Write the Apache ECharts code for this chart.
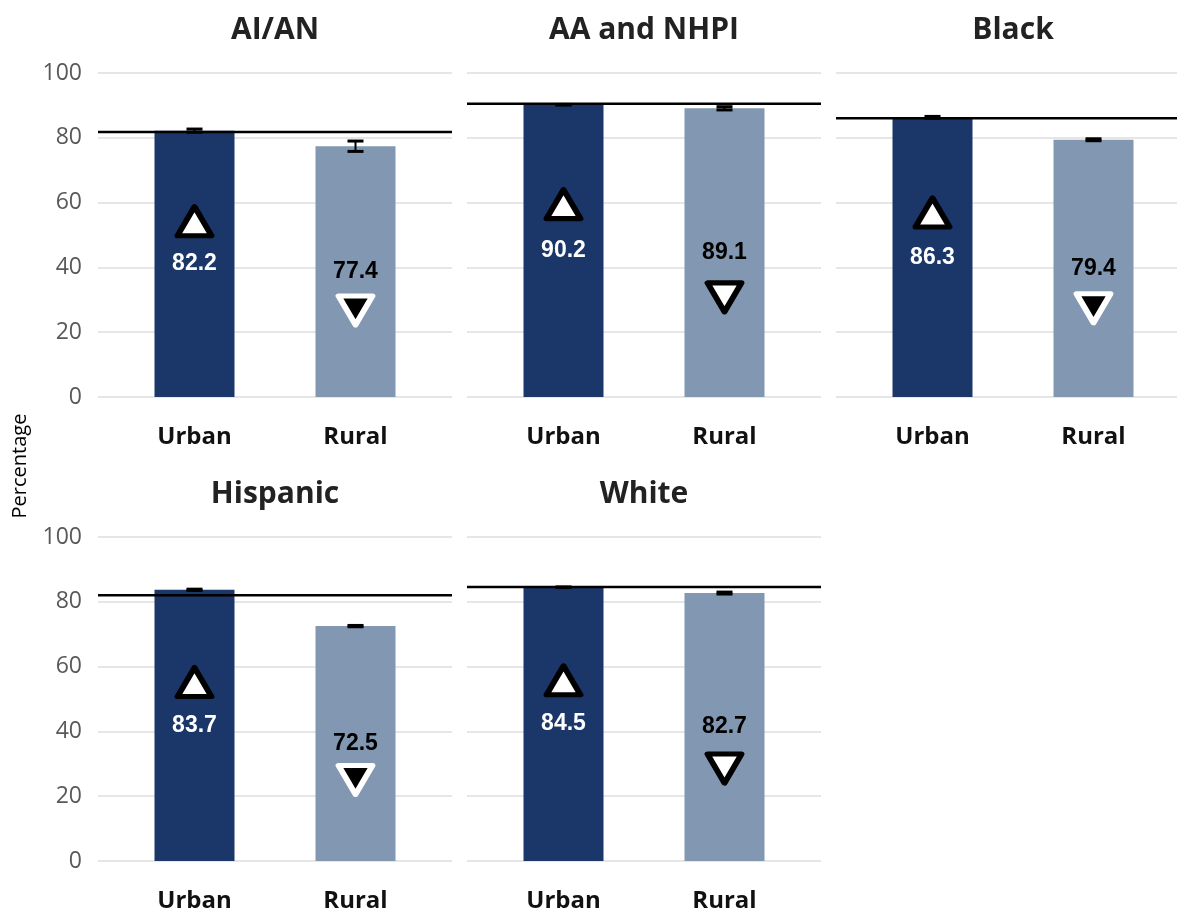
<!DOCTYPE html>
<html>
<head>
<meta charset="utf-8">
<script src="https://cdn.jsdelivr.net/npm/echarts@6/dist/echarts.min.js"></script>
<style>
html,body{margin:0;padding:0;background:#fff;}
#chart{width:1177px;height:911px;}
</style>
</head>
<body>
<div id="chart"></div>
<script>
// ---- Data ----
const groups = ['AI/AN', 'AA and NHPI', 'Black', 'Hispanic', 'White'];
const categories = ['Urban', 'Rural'];
const urbanValues = [82.2, 90.2, 86.3, 83.7, 84.5];
const ruralValues = [77.4, 89.1, 79.4, 72.5, 82.7];
const urbanErr = [0.5, 0.1, 0.3, 0.2, 0.1];
const ruralErr = [1.6, 0.5, 0.3, 0.2, 0.3];
const referenceValues = [81.8, 90.5, 86.0, 82.0, 84.6];
const ruralMarkerFilled = [true, false, true, true, false];
const yTicks = [0, 20, 40, 60, 80, 100];

// ---- Layout ----
const panelLefts = [98, 467, 836, 98, 467];
const panelRow = [0, 0, 0, 1, 1];
const panelW = 354, panelH = 324, barOffset = 16, barGridW = 322;
const URBAN = '#1b3769', RURAL = '#8297b1';

const grids = [], xAxes = [], yAxes = [], series = [], graphics = [];

groups.forEach((g, i) => {
  const top = panelRow[i] === 0 ? 73 : 537;
  const left = panelLefts[i];
  const showLabels = (i === 0 || i === 3);
  // background grid (gridlines + reference line)
  const bg = grids.length;
  grids.push({left: left, top: top, width: panelW, height: panelH, outerBoundsMode: 'none'});
  xAxes.push({gridIndex: bg, type: 'value', min: 0, max: 1, show: false});
  yAxes.push({
    gridIndex: bg, type: 'value', min: yTicks[0], max: yTicks[yTicks.length - 1], interval: yTicks[1] - yTicks[0],
    axisLine: {show: false}, axisTick: {show: false},
    axisLabel: {show: showLabels, fontSize: 23, color: '#595959', fontFamily: '"Open Sans", sans-serif', margin: 16},
    splitLine: {show: true, lineStyle: {color: '#e6e6e6', width: 2}}
  });
  series.push({
    type: 'line', xAxisIndex: bg, yAxisIndex: bg, symbol: 'none', silent: true, z: 5,
    lineStyle: {color: '#000', width: 2.5},
    data: [[0, referenceValues[i]], [1, referenceValues[i]]]
  });
  // bar grid
  const bi = grids.length;
  grids.push({left: left + barOffset, top: top, width: barGridW, height: panelH, outerBoundsMode: 'none'});
  xAxes.push({
    gridIndex: bi, type: 'category', data: categories,
    axisLine: {show: false}, axisTick: {show: false},
    axisLabel: {fontSize: 24, fontWeight: 'bold', color: '#111', fontFamily: '"Open Sans", sans-serif', margin: 28}
  });
  yAxes.push({gridIndex: bi, type: 'value', min: 0, max: 100, show: false, splitLine: {show: false}});
  series.push({
    type: 'bar', xAxisIndex: bi, yAxisIndex: bi, barWidth: 80, z: 2,
    data: [
      {value: urbanValues[i], itemStyle: {color: URBAN}, label: {color: '#fff'}},
      {value: ruralValues[i], itemStyle: {color: RURAL}, label: {color: '#000'}}
    ],
    label: {show: true, position: 'inside', fontSize: 23, fontWeight: 'bold',
            fontFamily: '"Liberation Sans", Arial, sans-serif', formatter: p => p.value.toFixed(1)}
  });
  series.push({
    type: 'custom', xAxisIndex: bi, yAxisIndex: bi, z: 6, silent: true,
    data: [
      [0, urbanValues[i] - urbanErr[i], urbanValues[i] + urbanErr[i]],
      [1, ruralValues[i] - ruralErr[i], ruralValues[i] + ruralErr[i]]
    ],
    renderItem: (params, api) => {
      const x = api.value(0);
      const lo = api.coord([x, api.value(1)]);
      const hi = api.coord([x, api.value(2)]);
      const hw = 8;
      const st = {stroke: '#000', lineWidth: 3};
      return {type: 'group', children: [
        {type: 'line', shape: {x1: lo[0], y1: lo[1], x2: hi[0], y2: hi[1]}, style: {stroke: '#000', lineWidth: 2}},
        {type: 'line', shape: {x1: lo[0] - hw, y1: lo[1], x2: lo[0] + hw, y2: lo[1]}, style: st},
        {type: 'line', shape: {x1: hi[0] - hw, y1: hi[1], x2: hi[0] + hw, y2: hi[1]}, style: st}
      ]};
    }
  });
  const filled = ruralMarkerFilled[i];
  series.push({
    type: 'scatter', xAxisIndex: bi, yAxisIndex: bi, z: 7, silent: true,
    symbol: 'triangle', symbolSize: [34, 29],
    itemStyle: {opacity: 1},
    data: [
      {value: [0, urbanValues[i] * 0.66],
       itemStyle: {color: '#fff', borderColor: '#000', borderWidth: 5.5, opacity: 1, borderJoin: 'round'}},
      {value: [1, ruralValues[i] * 0.345], symbolRotate: 180,
       itemStyle: {color: filled ? '#000' : '#fff', borderColor: filled ? '#fff' : '#000', borderWidth: 5.5, opacity: 1, borderJoin: 'round'}}
    ]
  });
  // title
  graphics.push({
    type: 'text', x: left + barOffset + barGridW / 2, y: top - 43,
    style: {text: g, fontSize: 30, fontWeight: 'bold', fontFamily: '"Open Sans", sans-serif',
            fill: '#222', align: 'center', verticalAlign: 'middle'}
  });
});

graphics.push({
  type: 'text', x: 20, y: 466, rotation: Math.PI / 2,
  style: {text: 'Percentage', fontSize: 20, fontFamily: '"Open Sans", sans-serif',
          fill: '#000', align: 'center', verticalAlign: 'middle'}
});

const chart = echarts.init(document.getElementById('chart'), null, {renderer: 'canvas'});
chart.setOption({
  animation: false,
  backgroundColor: '#fff',
  grid: grids, xAxis: xAxes, yAxis: yAxes, series: series,
  graphic: graphics
});
</script>
</body>
</html>
